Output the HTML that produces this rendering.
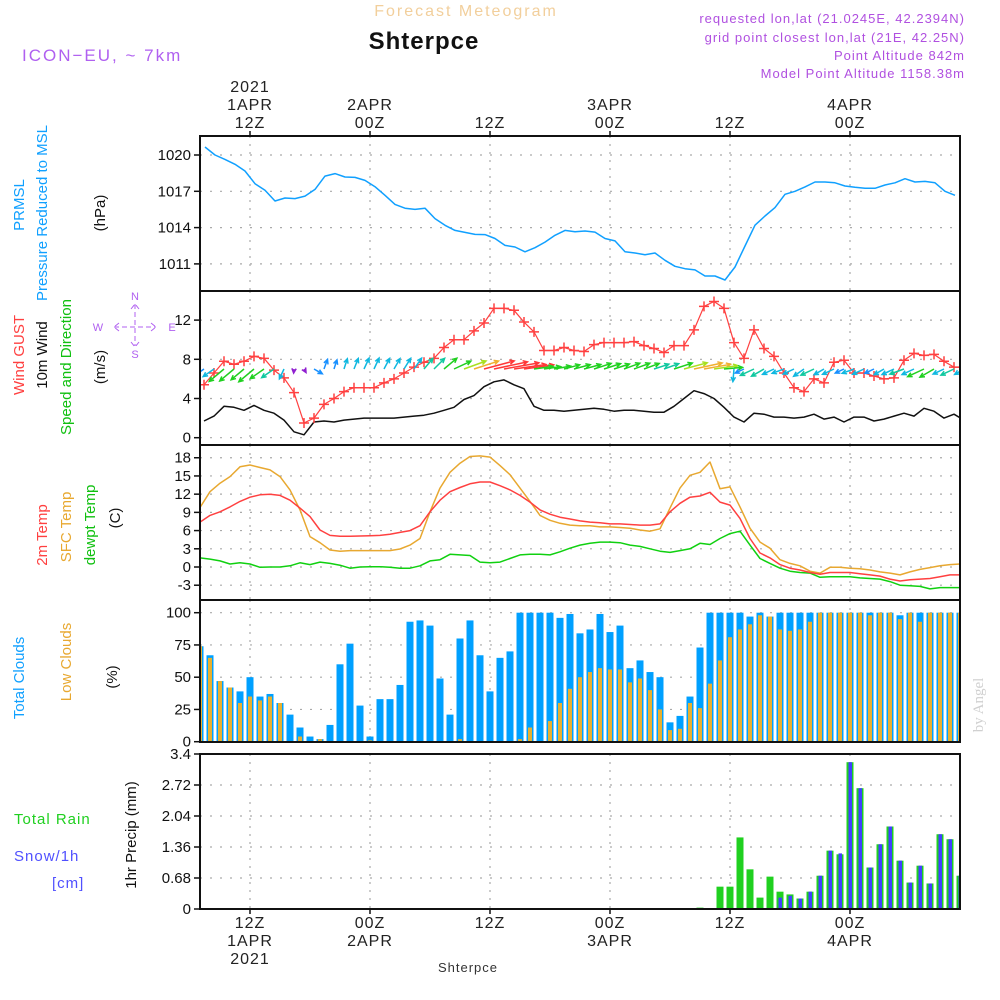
<!DOCTYPE html>
<html><head><meta charset="utf-8"><style>
body{margin:0;background:#fff;}
svg{display:block;font-family:"Liberation Sans",sans-serif;}
</style></head><body>
<svg id="c" width="1000" height="1000" viewBox="0 0 1000 1000" xmlns="http://www.w3.org/2000/svg">
<g>
<text x="466" y="16" text-anchor="middle" font-size="16" fill="#f2cf9c" letter-spacing="2">Forecast Meteogram</text>
<text x="424" y="49" text-anchor="middle" font-size="24" font-weight="bold" fill="#111" letter-spacing="1">Shterpce</text>
<text x="22" y="61" font-size="17" fill="#b060f0" letter-spacing="2">ICON−EU, ~ 7km</text>
<text x="965" y="23" text-anchor="end" font-size="13" fill="#b050e0" letter-spacing="1">requested lon,lat (21.0245E, 42.2394N)</text>
<text x="965" y="42" text-anchor="end" font-size="13" fill="#b050e0" letter-spacing="1">grid point closest lon,lat (21E, 42.25N)</text>
<text x="965" y="60" text-anchor="end" font-size="13" fill="#b050e0" letter-spacing="1">Point Altitude 842m</text>
<text x="965" y="78" text-anchor="end" font-size="13" fill="#b050e0" letter-spacing="1">Model Point Altitude 1158.38m</text>
</g>
<g font-size="15">
<text transform="translate(24,205) rotate(-90)" text-anchor="middle" fill="#10a0ff">PRMSL</text>
<text transform="translate(47,213) rotate(-90)" text-anchor="middle" fill="#10a0ff">Pressure Reduced to MSL</text>
<text transform="translate(105,213) rotate(-90)" text-anchor="middle" fill="#111">(hPa)</text>
<text transform="translate(24,355) rotate(-90)" text-anchor="middle" fill="#ff4040">Wind GUST</text>
<text transform="translate(47,355) rotate(-90)" text-anchor="middle" fill="#111">10m Wind</text>
<text transform="translate(71,367) rotate(-90)" text-anchor="middle" fill="#10c010">Speed and Direction</text>
<text transform="translate(105,367) rotate(-90)" text-anchor="middle" fill="#111">(m/s)</text>
<text transform="translate(47,535) rotate(-90)" text-anchor="middle" fill="#ff4040">2m Temp</text>
<text transform="translate(71,527) rotate(-90)" text-anchor="middle" fill="#e8a830">SFC Temp</text>
<text transform="translate(95,525) rotate(-90)" text-anchor="middle" fill="#10c010">dewpt Temp</text>
<text transform="translate(120,518) rotate(-90)" text-anchor="middle" fill="#111">(C)</text>
<text transform="translate(24,678) rotate(-90)" text-anchor="middle" fill="#10a0ff">Total Clouds</text>
<text transform="translate(71,662) rotate(-90)" text-anchor="middle" fill="#e8a830">Low Clouds</text>
<text transform="translate(117,677) rotate(-90)" text-anchor="middle" fill="#111">(%)</text>
<text transform="translate(136,835) rotate(-90)" text-anchor="middle" fill="#111">1hr Precip (mm)</text>
<text x="14" y="824" fill="#20d020" letter-spacing="1">Total   Rain</text>
<text x="14" y="861" fill="#5050ff" letter-spacing="1">Snow/1h</text>
<text x="52" y="888" fill="#5050ff" letter-spacing="1">[cm]</text>
<text transform="translate(983,705) rotate(-90)" text-anchor="middle" font-family="Liberation Serif,serif" font-size="15" fill="#d0d0d0">by Angel</text>
</g>
<g fill="#b060f0" stroke="#b060f0" font-size="11">
<text x="135" y="300" text-anchor="middle" stroke="none">N</text>
<text x="98" y="331" text-anchor="middle" stroke="none">W</text>
<text x="172" y="331" text-anchor="middle" stroke="none">E</text>
<text x="135" y="358" text-anchor="middle" stroke="none">S</text>
<path d="M135 304 L135 346 M114 327 L156 327 M131 309 L135 304 L139 309 M131 342 L135 347 L139 342 M119 323 L114 327 L119 331 M151 323 L156 327 L151 331" fill="none" stroke-width="1" stroke-dasharray="5 3"/>
</g>
<g id="plots"></g>
</svg>
<script>
// ---- data (hourly from 1APR 07Z) ----
const timeTickLabelsTop = [["2021","1APR","12Z"],["2APR","00Z"],["12Z"],["3APR","00Z"],["12Z"],["4APR","00Z"]];
const timeTickLabelsBottom = [["12Z","1APR","2021"],["00Z","2APR"],["12Z"],["00Z","3APR"],["12Z"],["00Z","4APR"]];
const timeTickHours = [5,17,29,41,53,65];
const pressure = [1020.66,1020.0,1019.64,1019.23,1018.68,1017.63,1017.08,1016.2,1016.45,1016.4,1016.6,1017.16,1018.26,1018.46,1018.18,1018.15,1017.9,1017.38,1016.67,1015.92,1015.6,1015.5,1015.6,1014.74,1014.19,1013.77,1013.6,1013.44,1013.42,1013.1,1012.53,1012.4,1012.0,1012.34,1012.8,1013.36,1013.77,1013.66,1013.72,1013.63,1013.1,1012.9,1012.0,1011.9,1011.76,1011.9,1011.3,1010.8,1010.6,1010.5,1010.0,1010.0,1009.67,1010.74,1012.48,1014.2,1014.96,1015.65,1016.75,1017.0,1017.36,1017.77,1017.77,1017.7,1017.44,1017.33,1017.25,1017.25,1017.52,1017.7,1018.04,1017.77,1017.82,1017.7,1017.0,1016.67];
const pressureTicks = [1020,1017,1014,1011];
const gust = [5.4,6.6,7.8,7.5,7.8,8.3,8.1,6.9,6.1,4.6,1.5,2.0,3.4,4.0,4.7,5.1,5.1,5.1,5.6,6.0,6.6,7.2,7.7,8.1,9.2,10.0,10.0,10.9,11.7,13.2,13.2,13.0,11.8,10.8,8.9,8.9,9.2,8.9,8.8,9.5,9.7,9.7,9.7,9.8,9.4,9.1,8.7,9.4,9.4,11.0,13.4,13.9,13.2,9.7,8.1,11.0,9.1,8.3,6.6,5.1,4.7,6.0,5.6,7.7,7.9,6.6,6.6,6.3,6.0,6.1,7.9,8.6,8.4,8.5,7.8,7.2,7.2];
const wind10 = [1.7,2.2,3.2,3.1,2.8,3.3,2.8,2.5,1.8,0.6,0.3,1.6,1.7,1.6,1.8,1.9,2.0,2.0,2.0,2.0,2.1,2.2,2.3,2.5,2.8,3.1,3.9,4.3,5.2,5.7,5.9,5.4,5.0,3.2,2.8,2.8,2.7,2.8,2.9,3.0,2.9,2.7,2.8,2.8,2.7,2.6,2.6,3.2,4.0,4.8,4.5,4.0,3.1,2.1,1.6,2.5,2.4,2.1,2.1,2.0,2.1,2.4,1.9,2.1,1.6,2.1,2.1,1.7,1.9,2.2,2.5,2.2,3.0,2.7,2.0,2.4,1.8];
const windDir = [215,215,220,220,220,220,215,215,245,265,300,330,70,72,72,68,65,65,62,60,58,55,50,45,40,25,20,18,15,12,10,8,8,8,8,10,15,15,15,18,18,18,20,20,20,18,20,18,15,12,10,8,5,265,205,205,210,205,200,205,215,205,210,205,205,200,205,205,210,205,200,205,205,210,205,205,210];
const windTicks = [0,4,8,12];
const temp2m = [7.4,8.5,9.1,9.9,10.8,11.5,11.9,12.0,11.8,11.0,9.7,8.3,6.1,5.2,5.05,5.05,5.1,5.15,5.2,5.4,5.7,6.0,6.8,9.1,11.0,12.4,13.1,13.7,14.0,14.0,13.4,12.7,11.8,10.7,9.4,8.7,8.2,7.9,7.6,7.4,7.3,7.1,7.1,7.0,6.9,6.9,7.1,9.1,10.5,11.5,11.7,12.3,10.7,10.2,8.0,4.7,2.3,1.5,0.4,-0.2,-0.5,-0.9,-1.2,-0.9,-0.9,-0.9,-1.1,-1.3,-1.5,-2.0,-2.3,-2.1,-2.0,-1.9,-1.6,-1.3,-1.3];
const tempSfc = [9.8,12.4,13.8,14.9,16.5,16.8,16.4,16.0,14.9,12.7,9.4,5.0,4.0,2.8,2.6,2.7,2.7,2.7,2.7,2.7,2.97,3.6,4.7,9.1,13.0,15.6,17.1,18.2,18.3,18.1,16.7,15.2,13.0,10.8,8.5,7.7,7.2,6.9,6.8,6.8,6.6,6.6,6.5,6.4,6.1,5.9,6.3,9.7,13.0,15.1,15.6,17.3,12.9,13.2,9.9,6.4,4.1,3.1,1.2,0.6,0.2,-0.7,-1.0,-0.05,-0.05,-0.2,-0.3,-0.5,-0.8,-1.0,-1.3,-0.8,-0.4,-0.1,0.2,0.4,0.5];
const dewpt = [1.5,1.3,1.0,0.5,0.7,0.5,-0.05,0,0,0.2,0.7,0.4,0.8,0.6,0.3,-0.2,0,0.05,0.05,-0.05,-0.2,-0.2,0.2,1.0,1.2,2.1,2.0,1.9,0.8,0.7,0.8,1.4,2.0,2.1,2.1,2.0,2.5,3.1,3.6,3.9,4.1,4.1,4.0,3.6,3.4,3.0,2.6,2.4,2.7,3.0,3.9,3.7,4.7,5.5,5.9,3.6,1.4,0.6,-0.2,-0.7,-0.9,-1.0,-1.7,-1.6,-1.6,-1.6,-1.8,-1.9,-2.0,-2.4,-3.0,-3.1,-3.2,-3.6,-3.4,-3.4,-3.4];
const tempTicks = [18,15,12,9,6,3,0,-3];
const totalClouds = [74,67,47,42,39,50,35,37,30,21,11,4,2,13,60,76,28,4,33,33,44,93,94,90,49,21,80,94,67,39,65,70,100,100,100,100,96,99,84,87,99,85,90,57,63,54,50,15,20,35,73,100,100,100,100,97,100,97,100,100,100,100,100,100,100,100,100,100,100,100,98,100,100,100,100,100,100];
const lowClouds = [74,65,47,42,30,35,32,35,30,0,4,0,2,0,0,0,0,1,0,0,0,0,0,0,0,0,2,0,0,0,0,0,2,11,0,16,30,41,50,54,57,56,56,46,49,40,25,9,10,30,26,45,63,81,87,91,98,97,87,86,87,93,100,100,100,100,100,98,100,100,95,100,93,100,100,100,100];
const cloudTicks = [0,25,50,75,100];
const rain = [0,0,0,0,0,0,0,0,0,0,0,0,0,0,0,0,0,0,0,0,0,0,0,0,0,0,0,0,0,0,0,0,0,0,0,0,0,0,0,0,0,0,0,0,0,0,0,0,0,0,0.03,0,0.49,0.49,1.57,0.87,0.25,0.71,0.38,0.32,0.23,0.38,0.73,1.28,1.20,3.22,2.65,0.91,1.42,1.81,1.06,0.58,0.95,0.56,1.64,1.53,0.73];
const snow = [0,0,0,0,0,0,0,0,0,0,0,0,0,0,0,0,0,0,0,0,0,0,0,0,0,0,0,0,0,0,0,0,0,0,0,0,0,0,0,0,0,0,0,0,0,0,0,0,0,0,0,0,0,0,0,0,0,0,0.25,0.29,0.23,0.38,0.73,1.28,1.22,3.22,2.65,0.91,1.42,1.81,1.06,0.58,0.95,0.56,1.64,1.53,0.73];
const precipTicks = ["0","0.68","1.36","2.04","2.72","3.4"];

const NS="http://www.w3.org/2000/svg";
const root=document.getElementById('plots');
function el(tag,attrs,parent){const e=document.createElementNS(NS,tag);for(const k in attrs)e.setAttribute(k,attrs[k]);(parent||root).appendChild(e);return e;}
const X0=200,X1=960;
const xs=i=>X0+10*i;
const yP=p=>155+(1020-p)*12.1;
const yW=v=>437.7-v*9.8;
const yT=t=>567-t*6.07;
const yC=c=>741.7-c*1.29;
const yR=r=>909-r*(155/3.4);
const panels=[[136,291],[291,445],[445,600],[600,742],[754,909]];

el('clipPath',{id:'clipArea'});
const cp=root.lastChild;
el('rect',{x:X0,y:136,width:X1-X0,height:773},cp);

// grids
const grid=el('g',{});


function hgrid(y){el('line',{x1:X0,x2:X1,y1:y,y2:y,stroke:'#aaa','stroke-dasharray':'2 8','stroke-width':1.2},grid);}
pressureTicks.forEach(p=>hgrid(yP(p)));
windTicks.forEach(v=>hgrid(yW(v)));
tempTicks.forEach(t=>hgrid(yT(t)));
cloudTicks.forEach(c=>hgrid(yC(c)));
precipTicks.forEach(r=>{if(+r>0&&+r<3.4)hgrid(yR(+r));});
timeTickHours.forEach(h=>{panels.forEach(pn=>{el('line',{x1:xs(h),x2:xs(h),y1:pn[0],y2:pn[1],stroke:'#aaa','stroke-dasharray':'2 6','stroke-width':1.2},grid);});});

const plot=el('g',{'clip-path':'url(#clipArea)'});
// clouds
totalClouds.forEach((c,i)=>{const r=el('rect',{x:xs(i)-3.5,y:yC(c),width:7,height:yC(0)-yC(c),fill:'#00a0ff'},plot);

});
lowClouds.forEach((c,i)=>{if(c<=0)return;const r=el('rect',{x:xs(i)-2,y:yC(c),width:4,height:yC(0)-yC(c),fill:'#e8b030'},plot);

});
// precip
rain.forEach((v,i)=>{if(v<=0)return;const r=el('rect',{x:xs(i)-3.5,y:yR(v),width:7,height:yR(0)-yR(v),fill:'#20d020'},plot);

});
snow.forEach((v,i)=>{if(v<=0)return;const r=el('rect',{x:xs(i)-1.5,y:yR(v),width:3.5,height:yR(0)-yR(v),fill:'#4040ff'},plot);

});

function line(arr,xf,yf,color,name,w){const d=arr.map((v,i)=>(i?'L':'M')+xf(i).toFixed(1)+' '+yf(v).toFixed(1)).join(' ');
const p=el('path',{d:d,fill:'none',stroke:color,'stroke-width':w||1.5,'stroke-linejoin':'round'},plot);

}
line(pressure,i=>xs(i)+5,yP,'#10a0ff','pressure-line');
line(wind10,i=>xs(i)+4,yW,'#111','wind-10m-line');
line(gust,i=>xs(i)+4,yW,'#ff4040','wind-gust-line',1.2);
gust.forEach((v,i)=>{const x=xs(i)+4,y=yW(v);const m=el('path',{d:`M${x-5} ${y}L${x+5} ${y}M${x} ${y-5}L${x} ${y+5}`,stroke:'#ff4040','stroke-width':1.5},plot);

});
// wind arrows
function spdColor(s){if(s<1)return'#9020d0';if(s<1.75)return'#1890ff';if(s<2.3)return'#10b8e0';if(s<2.7)return'#10c8a0';if(s<3.5)return'#20d020';if(s<4.3)return'#a8e020';if(s<5.0)return'#f0b030';return'#ff3838';}
wind10.forEach((s,i)=>{const a=windDir[i]*Math.PI/180;const L=Math.max(4,6*s);const x0=xs(i)+4,y0=369;
const x1=x0+L*Math.cos(a),y1=y0-L*Math.sin(a);const h=5,ha=0.45;
const b1=a+Math.PI-ha,b2=a+Math.PI+ha;
const d=`M${x0} ${y0}L${x1} ${y1}M${x1+h*Math.cos(b1)} ${y1-h*Math.sin(b1)}L${x1} ${y1}L${x1+h*Math.cos(b2)} ${y1-h*Math.sin(b2)}`;
const p=el('path',{d:d,fill:'none',stroke:spdColor(s),'stroke-width':1.5},plot);

});
line(dewpt,xs,yT,'#10d010','dewpoint-line');
line(tempSfc,xs,yT,'#e8a830','sfc-temp-line');
line(temp2m,xs,yT,'#ff4040','temp-2m-line');

// frames
const fr=el('g',{});


panels.forEach(pn=>{el('rect',{x:X0,y:pn[0],width:X1-X0,height:pn[1]-pn[0],fill:'none',stroke:'#111','stroke-width':2},fr);});
// ticks + labels
const tl=el('g',{'font-size':15,fill:'#111','text-anchor':'end'});


function ytick(y,label){el('line',{x1:X0-6,x2:X0,y1:y,y2:y,stroke:'#111','stroke-width':1.5},tl);const t=el('text',{x:X0-9,y:y+5},tl);t.textContent=label;}
pressureTicks.forEach(p=>ytick(yP(p),p));
windTicks.forEach(v=>ytick(yW(v),v));
tempTicks.forEach(t=>ytick(yT(t),t));
cloudTicks.forEach(c=>ytick(yC(c),c));
precipTicks.forEach(r=>ytick(yR(+r),r));
// time labels
const tx=el('g',{'font-size':16,fill:'#222','text-anchor':'middle','letter-spacing':1});


timeTickHours.forEach((h,k)=>{const x=xs(h);
el('line',{x1:x,x2:x,y1:131,y2:136,stroke:'#111','stroke-width':1.5},tx);
el('line',{x1:x,x2:x,y1:909,y2:914,stroke:'#111','stroke-width':1.5},tx);
const top=timeTickLabelsTop[k];top.forEach((s,j)=>{const t=el('text',{x:x,y:128-18*(top.length-1-j)},tx);t.textContent=s;});
timeTickLabelsBottom[k].forEach((s,j)=>{const t=el('text',{x:x,y:928+18*j},tx);t.textContent=s;});});
const bl=el('text',{x:468,y:972,'text-anchor':'middle','font-size':13,fill:'#333','letter-spacing':1});


bl.textContent='Shterpce';
</script>
</body></html>
